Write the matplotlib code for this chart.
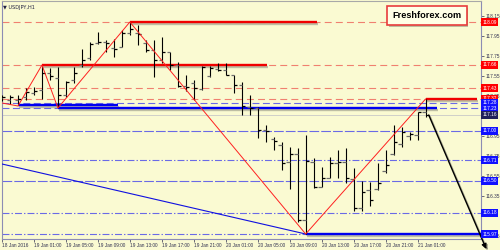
import matplotlib
matplotlib.use("Agg")
import matplotlib.pyplot as plt
import matplotlib.patheffects as pe
import matplotlib.transforms as mtrans

plt.rcParams['lines.scale_dashes'] = False

# H1 bars, USDJPY, one per hour from 18 Jan 21:00
highs = [117.36, 117.36, 117.36, 117.43, 117.44, 117.65, 117.63, 117.64, 117.50, 117.64,
         117.82, 117.89, 117.99, 117.91, 117.92, 118.01, 118.09, 118.06, 117.91, 117.91,
         117.94, 117.79, 117.69, 117.56, 117.51, 117.65, 117.65, 117.68, 117.68, 117.56,
         117.49, 117.36, 117.24, 117.06, 116.94, 116.89, 116.84, 116.83, 116.96, 116.73,
         116.64, 116.74, 116.81, 116.83, 116.63, 116.50, 116.49, 116.68, 116.81, 117.06,
         117.04, 116.99, 117.19, 117.32]
lows = [117.30, 117.27, 117.26, 117.31, 117.36, 117.32, 117.51, 117.24, 117.34, 117.48,
        117.64, 117.71, 117.87, 117.79, 117.74, 117.84, 117.96, 117.86, 117.79, 117.54,
        117.68, 117.61, 117.44, 117.40, 117.31, 117.41, 117.54, 117.60, 117.56, 117.38,
        117.16, 117.16, 116.93, 116.89, 116.81, 116.61, 116.42, 116.09, 115.97, 116.43,
        116.44, 116.53, 116.53, 116.48, 116.20, 116.20, 116.25, 116.41, 116.58, 116.76,
        116.84, 116.91, 116.91, 117.14]
opens = [117.33, 117.31, 117.31, 117.34, 117.38, 117.41, 117.58, 117.53, 117.36, 117.51,
         117.66, 117.73, 117.88, 117.89, 117.83, 117.84, 117.98, 117.98, 117.88, 117.81,
         117.71, 117.79, 117.66, 117.45, 117.48, 117.42, 117.55, 117.62, 117.61, 117.56,
         117.46, 117.24, 117.23, 117.01, 116.92, 116.86, 116.69, 116.77, 116.11, 116.69,
         116.44, 116.53, 116.68, 116.69, 116.52, 116.23, 116.41, 116.42, 116.60, 116.77,
         116.87, 116.95, 116.96, 117.19]
closes = [117.34, 117.34, 117.32, 117.39, 117.40, 117.58, 117.55, 117.36, 117.49, 117.58,
          117.71, 117.87, 117.89, 117.88, 117.82, 117.98, 118.02, 117.97, 117.81, 117.71,
          117.79, 117.66, 117.45, 117.44, 117.43, 117.64, 117.63, 117.61, 117.56, 117.46,
          117.25, 117.23, 117.01, 117.00, 116.90, 116.68, 116.77, 116.11, 116.70, 116.44,
          116.53, 116.68, 116.69, 116.53, 116.23, 116.39, 116.31, 116.48, 116.66, 116.89,
          116.99, 116.97, 117.19, 117.16]

time_labels = ["18 Jan 2016", "19 Jan 01:00", "19 Jan 05:00", "19 Jan 09:00", "19 Jan 13:00",
               "19 Jan 17:00", "19 Jan 21:00", "20 Jan 01:00", "20 Jan 05:00", "20 Jan 09:00",
               "20 Jan 13:00", "20 Jan 17:00", "20 Jan 21:00", "21 Jan 01:00"]
time_pos = [0, 4, 8, 12, 16, 20, 24, 28, 32, 36, 40, 44, 48, 52]

price_ticks = [118.15, 117.95, 117.75, 117.55, 117.35, 116.95, 116.75, 116.55, 116.35, 115.95]

# zigzag (bar index, price)
zz_x = [0, 2, 5, 7, 16, 38, 53]
zz_y = [117.28, 117.25, 117.66, 117.23, 118.09, 115.97, 117.32]

# levels
red_levels = [118.09, 117.66, 117.43, 117.32]
blue_levels = [117.28, 117.23, 117.00, 116.71, 116.50, 116.18, 115.97]
blue_styles = ['dash', 'dash', 'long', 'dashdot', 'long', 'dashdot', 'dashdot']
bid = 117.16

# thick support / resistance segments: (x0, x1, price)
red_segs = [(16, 39.4, 118.09), (5, 33.2, 117.66), (53, 59.4, 117.32)]
blue_segs = [(2, 14.5, 117.26), (7, 54.4, 117.23), (38, 60, 115.97)]

# blue trend line
trend_x = [0, 38]
trend_y = [116.67, 115.97]

# forecast arrow
arrow_from = (53.4, 117.16)
arrow_to = (60.6, 115.82)

BG = '#FAFAD2'
SMALL = dict(family='Liberation Sans', size=3.4)

fig = plt.figure(figsize=(5, 2.5), dpi=100, facecolor=BG)
ax = fig.add_axes([0.004, 0.044, 0.958, 0.952], facecolor=BG)
ax.set_xlim(0.06, 59.94)
ax.set_ylim(115.92, 118.30)

dash_styles = {'dash': (0, (5, 2.5)), 'long': (0, (7, 1.5)), 'dashdot': (0, (5, 1.5, 1, 1.5))}
for p in red_levels:
    ax.axhline(p, color='#F08070', lw=0.8, ls=(0, (5, 3)), zorder=1)
for p, s in zip(blue_levels, blue_styles):
    ax.axhline(p, color='#6A6AE6', lw=0.8, ls=dash_styles[s], zorder=1)
ax.axhline(bid, color='#C8C8C8', lw=0.6, zorder=1)

shadow = [pe.SimpleLineShadow(offset=(0.8, -1.2), shadow_color='#505050', alpha=0.35, rho=0.5),
          pe.Normal()]
for x0, x1, p in red_segs:
    ax.plot([x0, x1], [p, p], color='#F00000', lw=1.7, solid_capstyle='butt',
            path_effects=shadow, zorder=3)
for x0, x1, p in blue_segs:
    ax.plot([x0, x1], [p, p], color='#0000F0', lw=1.7, solid_capstyle='butt',
            path_effects=shadow, zorder=3)

ax.plot(trend_x, trend_y, color='#1010E0', lw=0.8, zorder=4)

# bars
idx = list(range(len(highs)))
ax.vlines(idx, lows, highs, color='black', lw=0.8, zorder=5)
ax.hlines(opens, [i - 0.4 for i in idx], idx, color='#6E6E6E', lw=0.9, zorder=5)
ax.hlines(closes, idx, [i + 0.4 for i in idx], color='black', lw=0.9, zorder=5)

ax.plot(zz_x, zz_y, color='#FF2020', lw=0.7, zorder=6)

ax.annotate('', xy=arrow_to, xytext=arrow_from, annotation_clip=False, zorder=7,
            arrowprops=dict(arrowstyle='-|>', color='black', lw=1.0, mutation_scale=7,
                            shrinkA=0, shrinkB=0,
                            path_effects=[pe.SimpleLineShadow(offset=(1, -1), alpha=0.3),
                                          pe.Normal()]))

# axes styling
for side in ['left', 'right', 'bottom']:
    ax.spines[side].set_color('#8C8CB4')
    ax.spines[side].set_linewidth(0.8)
ax.spines['top'].set_color('#A8A8A8')
ax.yaxis.tick_right()
ax.set_yticks(price_ticks)
ax.set_yticklabels(['%.2f' % p for p in price_ticks], fontdict=SMALL)
ax.tick_params(axis='y', length=2, width=0.5, pad=1, colors='#303050')
ax.set_xticks(time_pos)
ax.set_xticklabels(time_labels, fontdict=SMALL)
ax.tick_params(axis='x', length=2, width=0.5, pad=1, colors='#303050')
for lab in ax.get_xticklabels():
    lab.set_ha('left')

# level tags on the price scale
tr = mtrans.blended_transform_factory(ax.transAxes, ax.transData)
tags = [(p, '#FF0000') for p in red_levels] + [(p, '#1010FF') for p in blue_levels] + [(bid, '#20205A')]
for p, c in tags:
    ax.text(1.003, p, '%.2f' % p, transform=tr, ha='left', va='center', fontdict=SMALL,
            color='white', clip_on=False, zorder=10,
            bbox=dict(boxstyle='square,pad=0.25', fc=c, ec='none'))

ax.text(0.002, 0.985, '\u25bc USDJPY,H1', transform=ax.transAxes, ha='left', va='top',
        fontsize=3.6, color='#202040')

t = fig.text(0.854, 0.938, 'Freshforex.com', ha='center', va='center', fontsize=6.6,
             fontweight='bold', family='Liberation Sans', color='black',
             bbox=dict(boxstyle='square,pad=0.55', fc='#FFFFE6', ec='#E83C3C', lw=1.2))
t.get_bbox_patch().set_path_effects([pe.SimplePatchShadow(offset=(1.2, -1.2), alpha=0.35),
                                     pe.Normal()])

fig.savefig('out.png', dpi=100, facecolor=BG)
